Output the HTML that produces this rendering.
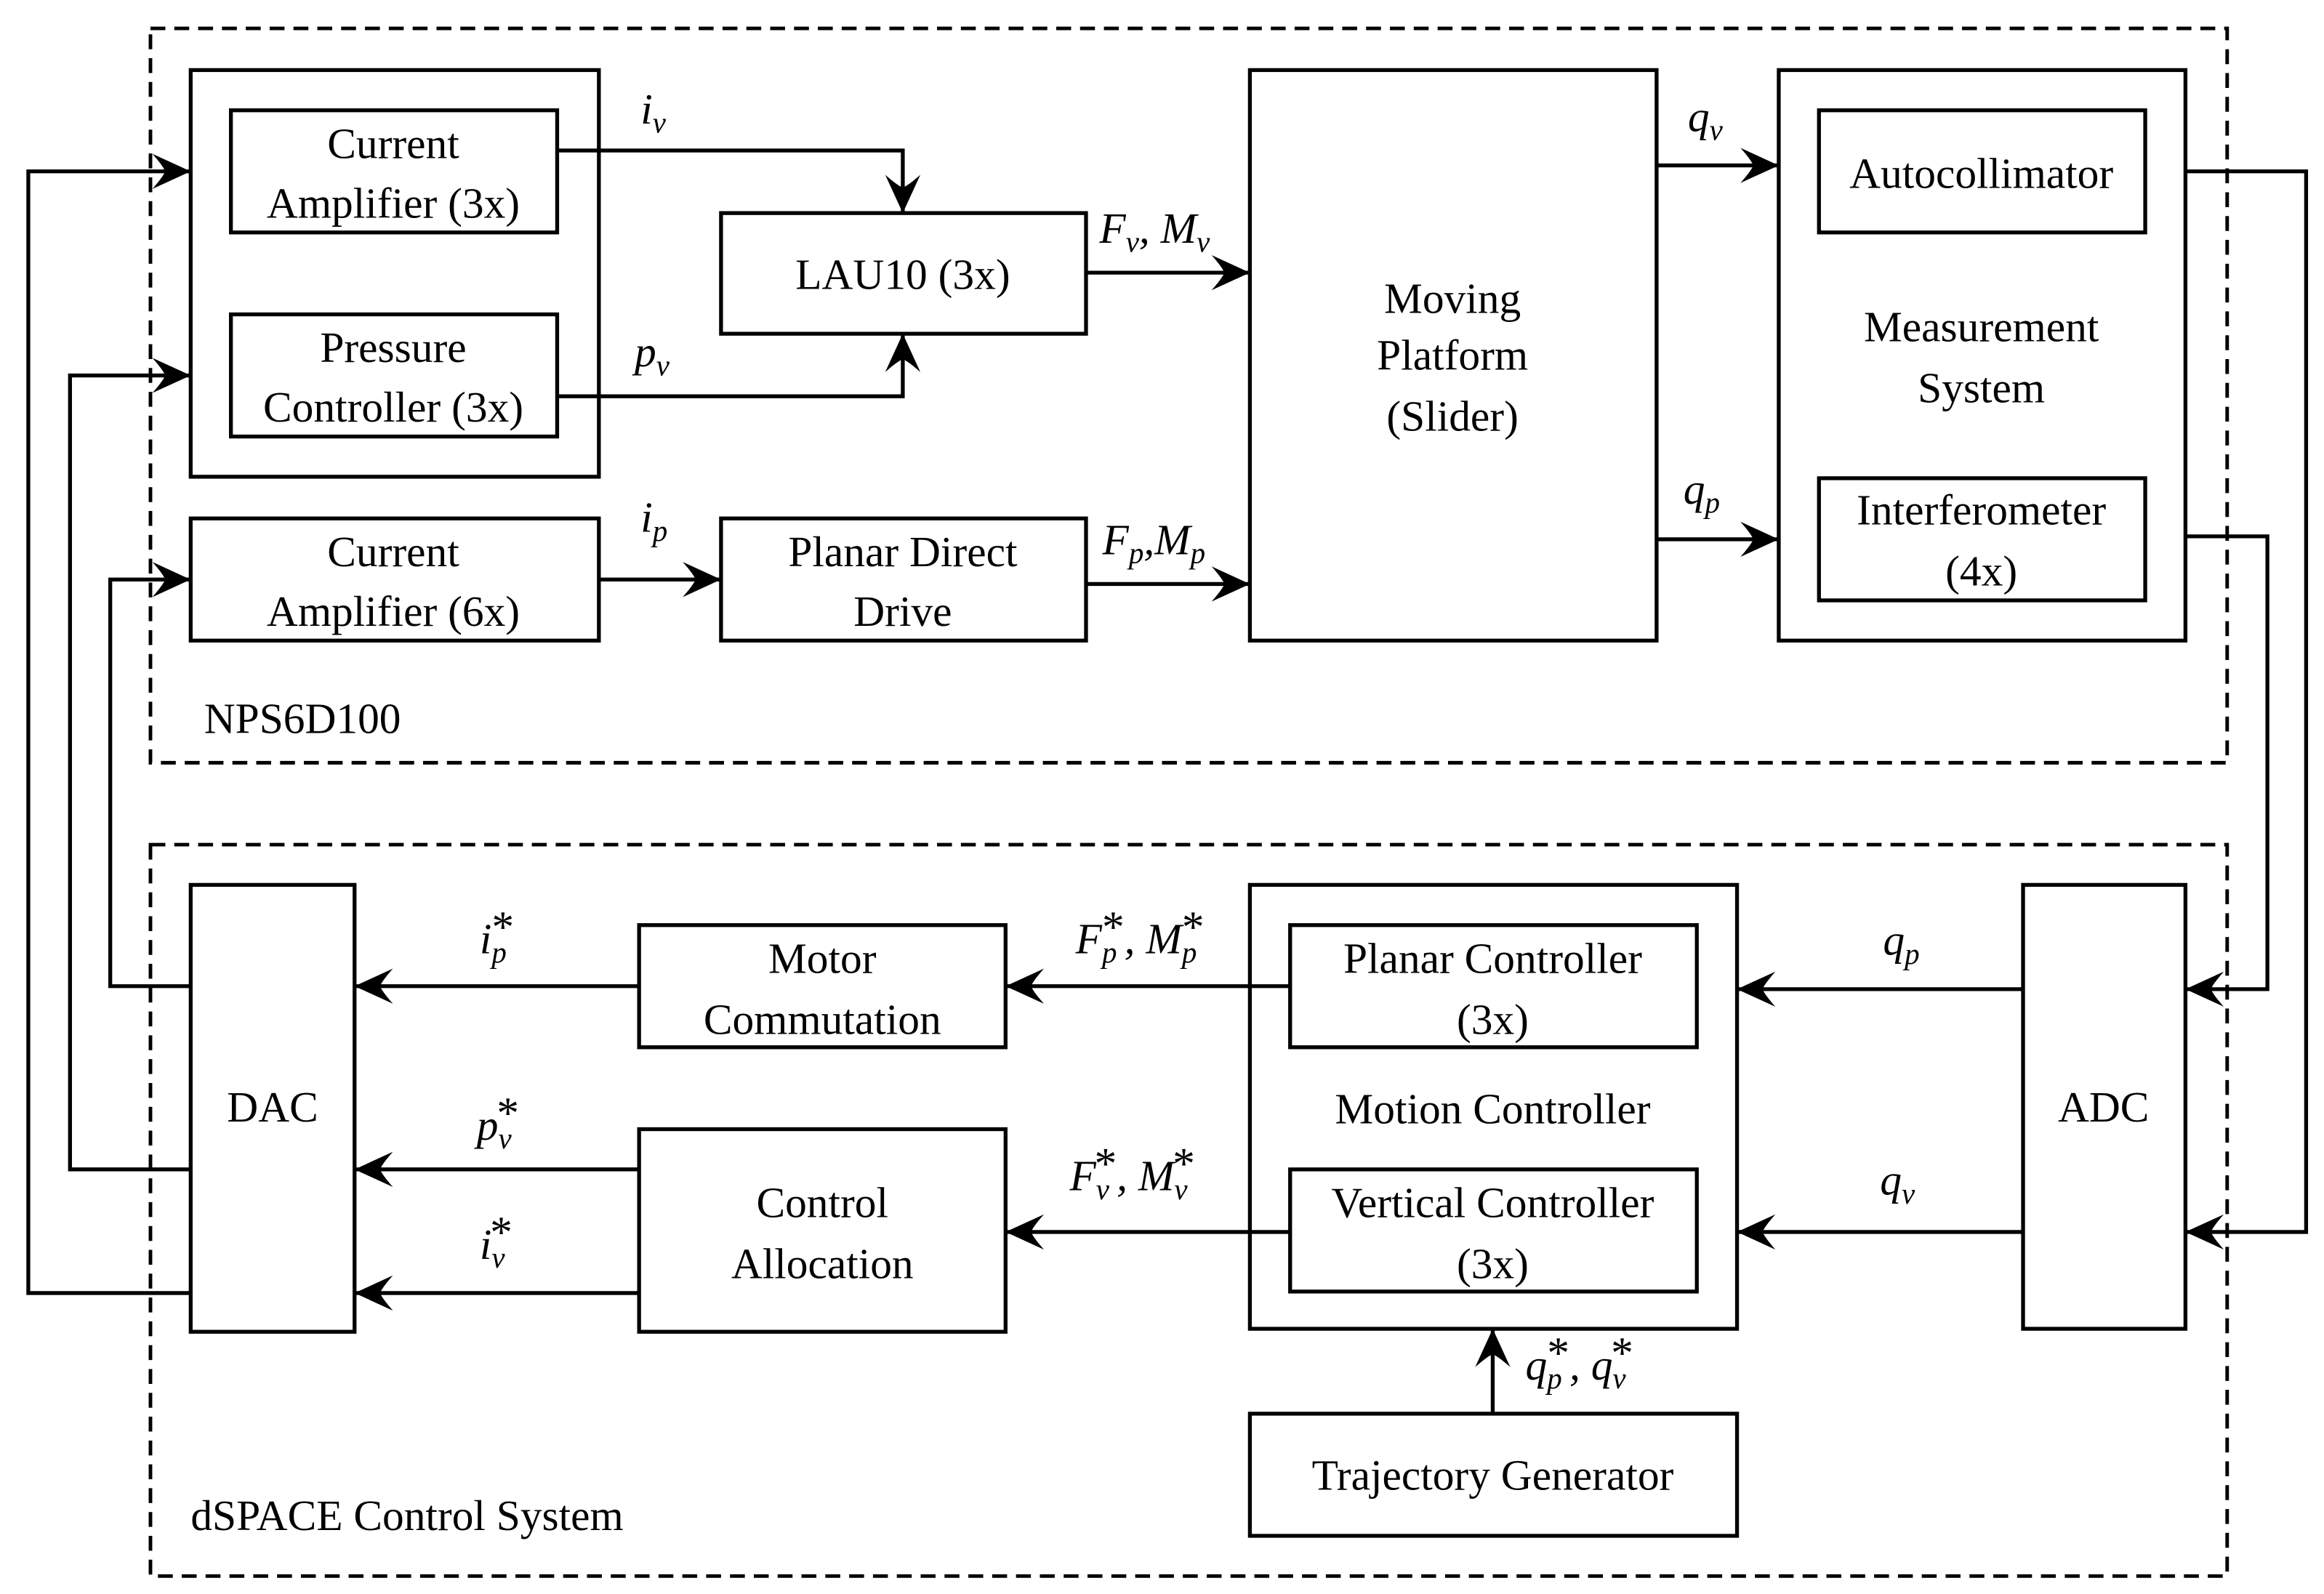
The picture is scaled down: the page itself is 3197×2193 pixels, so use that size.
<!DOCTYPE html>
<html><head><meta charset="utf-8"><style>html,body{margin:0;padding:0;background:#fff}svg{display:block}text{font-family:"Liberation Serif","DejaVu Serif","Noto Serif CJK SC",serif}</style></head>
<body>
<svg width="3197" height="2193" viewBox="0 0 1560 1070" xmlns="http://www.w3.org/2000/svg" style="font-family:'Liberation Serif',serif" font-size="29">
<defs>
<marker id="a" markerUnits="userSpaceOnUse" markerWidth="30" markerHeight="30" viewBox="-26 -13 28 26" refX="0" refY="0" orient="auto">
<path d="M0,0 L-24,-11 Q-17,-3 -16,0 Q-17,3 -24,11 Z" fill="#000"/>
</marker>
</defs>
<rect width="1560" height="1070" fill="#fff"/>
<g fill="none" stroke="#000" stroke-width="2.4" stroke-dasharray="10,6">
<rect x="101" y="19" width="1394" height="493"/>
<rect x="101" y="567" width="1394" height="491"/>
</g>
<g fill="none" stroke="#000" stroke-width="2.6">
<rect x="128" y="47" width="274" height="273"/>
<rect x="155" y="74" width="219" height="82"/>
<rect x="155" y="211" width="219" height="82"/>
<rect x="484" y="143" width="245" height="81"/>
<rect x="128" y="348" width="274" height="82"/>
<rect x="484" y="348" width="245" height="82"/>
<rect x="839" y="47" width="273" height="383"/>
<rect x="1194" y="47" width="273" height="383"/>
<rect x="1221" y="74" width="219" height="82"/>
<rect x="1221" y="321" width="219" height="82"/>
<rect x="1358" y="594" width="109" height="298"/>
<rect x="839" y="594" width="327" height="298"/>
<rect x="866" y="621" width="273" height="82"/>
<rect x="866" y="785" width="273" height="82"/>
<rect x="839" y="949" width="327" height="82"/>
<rect x="429" y="621" width="246" height="82"/>
<rect x="429" y="758" width="246" height="136"/>
<rect x="128" y="594" width="110" height="300"/>
</g>
<g fill="none" stroke="#000" stroke-width="2.6" marker-end="url(#a)">
<path d="M374,101 H606 V143"/>
<path d="M374,266 H606 V224"/>
<path d="M402,389 H484"/>
<path d="M729,183 H839"/>
<path d="M729,392 H839"/>
<path d="M1112,111 H1194"/>
<path d="M1112,362 H1194"/>
<path d="M1467,115 H1548 V827 H1467"/>
<path d="M1467,360 H1522 V664 H1467"/>
<path d="M1358,664 H1166"/>
<path d="M1358,827 H1166"/>
<path d="M1002,949 V892"/>
<path d="M866,662 H675"/>
<path d="M866,827 H675"/>
<path d="M429,662 H238"/>
<path d="M429,785 H238"/>
<path d="M429,868 H238"/>
<path d="M128,662 H74 V389 H128"/>
<path d="M128,785 H47 V252 H128"/>
<path d="M128,868 H19 V115 H128"/>
</g>
<g text-anchor="middle" fill="#000">
<text x="264" y="106">Current</text><text x="264" y="146">Amplifier (3x)</text>
<text x="264" y="243">Pressure</text><text x="264" y="283">Controller (3x)</text>
<text x="606" y="194">LAU10 (3x)</text>
<text x="264" y="380">Current</text><text x="264" y="420">Amplifier (6x)</text>
<text x="606" y="380">Planar Direct</text><text x="606" y="420">Drive</text>
<text x="975" y="210">Moving</text><text x="975" y="248">Platform</text><text x="975" y="289">(Slider)</text>
<text x="1330" y="126">Autocollimator</text>
<text x="1330" y="229">Measurement</text><text x="1330" y="270">System</text>
<text x="1330" y="352">Interferometer</text><text x="1330" y="393">(4x)</text>
<text x="1412" y="753">ADC</text>
<text x="1002" y="653">Planar Controller</text><text x="1002" y="694">(3x)</text>
<text x="1002" y="754">Motion Controller</text>
<text x="1002" y="817">Vertical Controller</text><text x="1002" y="858">(3x)</text>
<text x="1002" y="1000">Trajectory Generator</text>
<text x="552" y="653">Motor</text><text x="552" y="694">Commutation</text>
<text x="552" y="817">Control</text><text x="552" y="858">Allocation</text>
<text x="183" y="753">DAC</text>
</g>
<g fill="#000">
<text x="137" y="492">NPS6D100</text>
<text x="128" y="1027">dSPACE Control System</text>
</g>
<g fill="#000" font-style="italic">
<text x="430" y="83">i<tspan font-size="20" dy="6">v</tspan></text>
<text x="426" y="246">p<tspan font-size="20" dy="6">v</tspan></text>
<text x="430" y="357">i<tspan font-size="20" dy="6">p</tspan></text>
<text x="738" y="163">F<tspan font-size="20" dy="6">v</tspan><tspan dy="-6">, M</tspan><tspan font-size="20" dy="6">v</tspan></text>
<text x="740" y="372">F<tspan font-size="20" dy="6">p</tspan><tspan dy="-6">,M</tspan><tspan font-size="20" dy="6">p</tspan></text>
<text x="1133" y="88">q<tspan font-size="20" dy="6">v</tspan></text>
<text x="1130" y="338">q<tspan font-size="20" dy="6">p</tspan></text>
<text x="1264" y="641">q<tspan font-size="20" dy="6">p</tspan></text>
<text x="1262" y="802">q<tspan font-size="20" dy="6">v</tspan></text>
<text x="322" y="640">i<tspan font-size="20" dy="6">p</tspan><tspan font-style="normal" font-size="30" dx="-10" dy="-14">*</tspan></text>
<text x="320" y="765">p<tspan font-size="20" dy="6">v</tspan><tspan font-style="normal" font-size="30" dx="-10" dy="-14">*</tspan></text>
<text x="322" y="845">i<tspan font-size="20" dy="6">v</tspan><tspan font-style="normal" font-size="30" dx="-10" dy="-14">*</tspan></text>
<text x="722" y="640">F<tspan font-size="20" dy="6">p</tspan><tspan font-style="normal" font-size="30" dx="-10" dy="-14">*</tspan><tspan dy="8">, M</tspan><tspan font-size="20" dy="6">p</tspan><tspan font-style="normal" font-size="30" dx="-10" dy="-14">*</tspan></text>
<text x="718" y="799">F<tspan font-size="20" dy="6">v</tspan><tspan font-style="normal" font-size="30" dx="-10" dy="-14">*</tspan><tspan dy="8">, M</tspan><tspan font-size="20" dy="6">v</tspan><tspan font-style="normal" font-size="30" dx="-10" dy="-14">*</tspan></text>
<text x="1024" y="926">q<tspan font-size="20" dy="6">p</tspan><tspan font-style="normal" font-size="30" dx="-10" dy="-14">*</tspan><tspan dy="8">, q</tspan><tspan font-size="20" dy="6">v</tspan><tspan font-style="normal" font-size="30" dx="-10" dy="-14">*</tspan></text>
</g>
</svg>
</body></html>
